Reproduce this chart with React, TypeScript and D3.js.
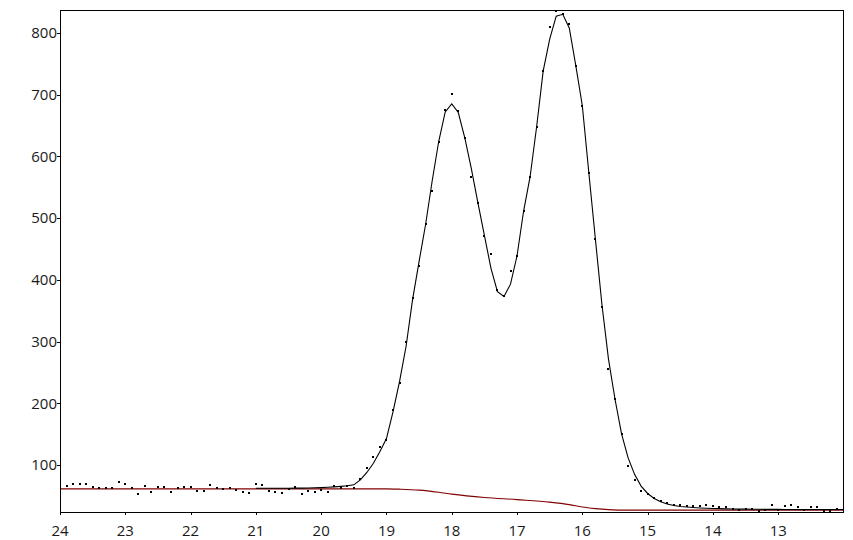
import React from "react";
import * as d3 from "d3";

// Elution volume grid (x)
const volumes = [
  24, 23.9, 23.8, 23.7, 23.6, 23.5, 23.4, 23.3, 23.2, 23.1,
  23, 22.9, 22.8, 22.7, 22.6, 22.5, 22.4, 22.3, 22.2, 22.1,
  22, 21.9, 21.8, 21.7, 21.6, 21.5, 21.4, 21.3, 21.2, 21.1,
  21, 20.9, 20.8, 20.7, 20.6, 20.5, 20.4, 20.3, 20.2, 20.1,
  20, 19.9, 19.8, 19.7, 19.6, 19.5, 19.4, 19.3, 19.2, 19.1,
  19, 18.9, 18.8, 18.7, 18.6, 18.5, 18.4, 18.3, 18.2, 18.1,
  18, 17.9, 17.8, 17.7, 17.6, 17.5, 17.4, 17.3, 17.2, 17.1,
  17, 16.9, 16.8, 16.7, 16.6, 16.5, 16.4, 16.3, 16.2, 16.1,
  16, 15.9, 15.8, 15.7, 15.6, 15.5, 15.4, 15.3, 15.2, 15.1,
  15, 14.9, 14.8, 14.7, 14.6, 14.5, 14.4, 14.3, 14.2, 14.1,
  14, 13.9, 13.8, 13.7, 13.6, 13.5, 13.4, 13.3, 13.2, 13.1,
  13, 12.9, 12.8, 12.7, 12.6, 12.5, 12.4, 12.3, 12.2, 12.1,
  12,
];

// Measured signal (dots)
const measured = [
  68.5, 66.7, 70, 70, 70, 64.8, 62.9, 62.9, 62.9, 73.2,
  70, 62.9, 53.7, 66.5, 57, 65, 65, 56.5, 62.5, 65,
  65, 58.5, 58.5, 68.3, 62.5, 62, 63, 59.7, 57, 55.4,
  70, 68.3, 58, 57, 55.4, 61, 65, 53.7, 58, 57,
  59.7, 57, 66, 63.4, 66.6, 62.9, 77, 95.8, 113, 129.3,
  140, 189, 233, 300, 371, 423, 491, 544, 624, 675,
  701.5, 673.4, 629.7, 566, 525, 471.5, 442, 383, 374, 414,
  439, 511.5, 567, 648, 738, 810, 836, 830.5, 815, 747,
  682, 573.5, 466, 356.5, 255, 207.5, 151, 99, 76.3, 58.5,
  53, 47, 42, 38, 36, 34.8, 33.2, 33.2, 33.2, 34.8,
  33.2, 31.6, 31.6, 29.4, 27.8, 29.4, 28.3, 26.2, 27.8, 34.8,
  27.8, 33.2, 34.8, 31.6, 27.8, 31.6, 31.6, 25.1, 25.1, 29.4,
  31.6,
];

// Fitted curve, from 21.0 down to 12.0
const fitStart = 21;
const fitted = [
  62.5, 62.5, 62.5, 62.5, 62.5, 62.5, 62.6, 62.7, 62.9, 63.2,
  63.5, 64, 64.7, 65.5, 66.5, 68, 76, 88, 103, 122,
  143, 186, 235, 292, 368, 430, 490, 560, 624, 672,
  685, 671, 630, 580, 525, 472, 419, 381, 373, 393,
  439, 511, 567, 648, 738, 790, 827, 830, 808, 747,
  682, 573, 466, 360, 272, 207, 151, 112, 85, 66,
  54, 46, 40.5, 37, 34.5, 33, 32, 31.2, 30.6, 30.1,
  29.7, 29.4, 29.1, 28.9, 28.7, 28.6, 28.5, 28.4, 28.3, 28.2,
  28.2, 28.1, 28.1, 28.1, 28, 28, 28, 28, 28, 28,
  28,
];

// Baseline (dark red)
const baseVolumes = [24, 19.0, 18.8, 18.5, 18.2, 18.0, 17.5, 17.0, 16.5, 16.2, 16.0, 15.8, 15.6, 15.4, 12];
const baseValues = [61.5, 61.5, 61, 59.5, 56, 53, 47.5, 44, 40, 36, 32, 29.5, 27.8, 27, 27];

const xTicks = [24, 23, 22, 21, 20, 19, 18, 17, 16, 15, 14, 13];
const yTicks = [100, 200, 300, 400, 500, 600, 700, 800];

const W = 853;
const H = 540;
const left = 60;
const right = 843.5;
const top = 10;
const bottom = 512;

export default function App() {
  const x = d3.scaleLinear().domain([24, 12]).range([left, right]);
  const y = d3.scaleLinear().domain([24, 837]).range([bottom, top]);

  const fitPts = volumes
    .filter((v) => v <= fitStart + 1e-9)
    .map((v, i) => [v, fitted[i]] as [number, number]);
  const basePts = baseVolumes.map((v, i) => [v, baseValues[i]] as [number, number]);

  const line = d3
    .line<[number, number]>()
    .x((d) => x(d[0]))
    .y((d) => y(d[1]));
  const smooth = d3
    .line<[number, number]>()
    .x((d) => x(d[0]))
    .y((d) => y(d[1]))
    .curve(d3.curveMonotoneX);

  const font = "'Open Sans', 'Noto Sans', sans-serif";

  return (
    <svg
      width={W}
      height={H}
      style={{ position: "fixed", left: 0, top: 0, background: "#fff" }}
    >
      <rect x={0} y={0} width={W} height={H} fill="#fff" />
      <defs>
        <clipPath id="plot">
          <rect x={left} y={top} width={right - left} height={bottom - top + 1} />
        </clipPath>
      </defs>
      <g clipPath="url(#plot)">
        <path d={smooth(basePts) || ""} fill="none" stroke="#800000" strokeWidth={1.1} />
        <path d={line(fitPts) || ""} fill="none" stroke="#000" strokeWidth={1.1} />
        {volumes.map((v, i) => (
          <rect
            key={i}
            x={Math.round(x(v)) - 1}
            y={Math.round(y(measured[i])) - 1}
            width={2}
            height={2}
            fill="#000"
          />
        ))}
      </g>
      <rect
        x={left + 0.5}
        y={top + 0.5}
        width={right - left - 1}
        height={bottom - top}
        fill="none"
        stroke="#000"
        strokeWidth={1}
        shapeRendering="crispEdges"
      />
      {xTicks.map((t) => {
        const px = Math.round(x(t)) + 0.5;
        return (
          <g key={"x" + t}>
            <line x1={px} x2={px} y1={bottom} y2={bottom + 3} stroke="#000" shapeRendering="crispEdges" />
            <text x={x(t)} y={536} textAnchor="middle" fontFamily={font} fontSize={15} fill="#1a1a1a">
              {t}
            </text>
          </g>
        );
      })}
      {yTicks.map((t) => {
        const py = Math.round(y(t)) + 0.5;
        return (
          <g key={"y" + t}>
            <line x1={left - 3} x2={left} y1={py} y2={py} stroke="#000" shapeRendering="crispEdges" />
            <text
              x={57}
              y={y(t)}
              dy="0.35em"
              textAnchor="end"
              fontFamily={font}
              fontSize={15}
              fill="#1a1a1a"
            >
              {t}
            </text>
          </g>
        );
      })}
    </svg>
  );
}
